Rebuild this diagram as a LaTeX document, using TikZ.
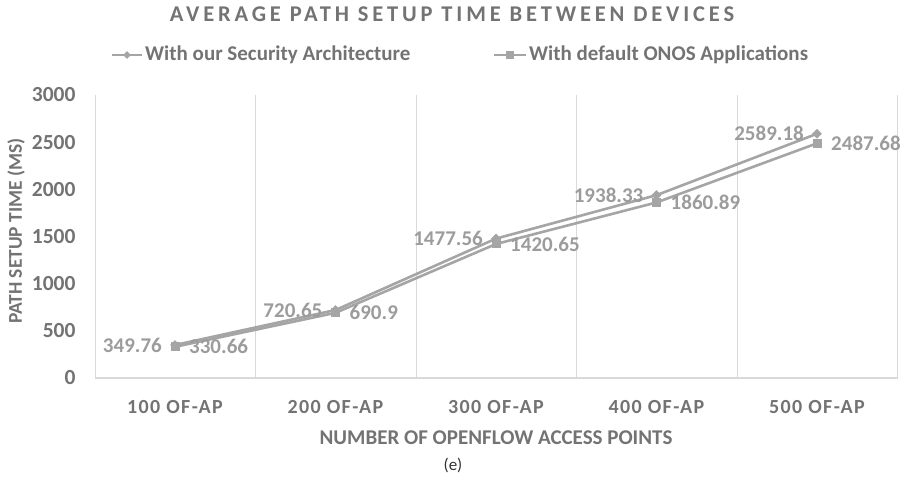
\documentclass[tikz,border=0pt]{standalone}
\usepackage{fontspec}
\setmainfont{Carlito}
\newfontfamily\spacedfont[LetterSpace=7]{Carlito}
\newfontfamily\widefont[LetterSpace=17]{Carlito}
\usetikzlibrary{shapes.geometric, positioning}
\definecolor{txtgray}{HTML}{737373}
\definecolor{lblgray}{HTML}{9C9C9C}
\definecolor{linegray}{HTML}{A5A5A5}
\definecolor{gridgray}{HTML}{D9D9D9}

\begin{document}
\begin{tikzpicture}[
    x=1pt, y=1pt,
    gridline/.style={draw=gridgray, line width=1pt},
    series/.style={draw=linegray, line width=2.6pt},
    diamark/.style={diamond, fill=linegray, minimum size=10pt, inner sep=0pt},
    sqmark/.style={rectangle, fill=linegray, minimum size=9pt, inner sep=0pt},
    ytick/.style={anchor=east, text=txtgray, font=\bfseries\fontsize{21.5}{24}\selectfont},
    xtick/.style={text=txtgray, font=\spacedfont\bfseries\fontsize{20}{24}\selectfont},
    datalbl/.style={text=lblgray, font=\bfseries\fontsize{21}{24}\selectfont, inner sep=0pt},
    legendtxt/.style={anchor=west, text=txtgray, font=\bfseries\fontsize{21}{24}\selectfont, inner sep=0pt},
    axtitle/.style={text=txtgray, font=\bfseries\fontsize{20.5}{24}\selectfont}
  ]
    \useasboundingbox (0,0) rectangle (907,481);

    % Title
    \node[text=txtgray, font=\widefont\bfseries\fontsize{22.5}{26}\selectfont] (title) at (452,467) {AVERAGE PATH SETUP TIME BETWEEN DEVICES};

    % Legend
    \coordinate (lgA1) at (112,426);
    \coordinate (lgA2) at (142,426);
    \draw[series, line width=2pt] (lgA1) -- (lgA2);
    \node[diamark, minimum size=8pt] (lgAmark) at (127,426) {};
    \node[legendtxt, right=3pt of lgA2] (lgAtxt) {With our Security Architecture};
    \coordinate (lgB1) at (494,426);
    \coordinate (lgB2) at (526,426);
    \draw[series, line width=2pt] (lgB1) -- (lgB2);
    \node[sqmark, minimum size=8pt] (lgBmark) at (510,426) {};
    \node[legendtxt, right=3pt of lgB2] (lgBtxt) {With default ONOS Applications};

    % Grid and axis
    \foreach \k in {0,...,5} {
      \coordinate (gb\k) at (95+160.5*\k,103);
      \coordinate (gt\k) at (95+160.5*\k,386);
      \draw[gridline] (gb\k) -- (gt\k);
    }
    \draw[gridline, line width=1.3pt] (gb0) -- (gb5);

    % Y ticks
    \foreach \v in {0,500,...,3000}
      \node[ytick] (yt\v) at (79,103+0.09433*\v) {\v};

    % X ticks
    \foreach \i in {1,...,5}
      \node[xtick] (xt\i) at (14.5+160.5*\i,74) {\i00 OF-AP};

    % Axis titles
    \node[axtitle, font=\bfseries\fontsize{21}{24}\selectfont] (xtitle) at (496,43) {NUMBER OF OPENFLOW ACCESS POINTS};
    \node[axtitle, rotate=90, font=\bfseries\fontsize{19.5}{23}\selectfont] (ytitle) at (16,250) {PATH SETUP TIME (MS)};
    \node[text=black!80, font=\fontsize{17}{20}\selectfont] (caption) at (453,16) {(e)};

    % Data points
    \foreach \i/\a/\b in {1/349.76/330.66, 2/720.65/690.9, 3/1477.56/1420.65, 4/1938.33/1860.89, 5/2589.18/2487.68} {
      \coordinate (pa\i) at (14.5+160.5*\i,103+0.09433*\a);
      \coordinate (pb\i) at (14.5+160.5*\i,103+0.09433*\b);
    }

    % Lines
    \draw[series] (pa1) -- (pa2) -- (pa3) -- (pa4) -- (pa5);
    \draw[series] (pb1) -- (pb2) -- (pb3) -- (pb4) -- (pb5);

    % Markers and labels
    \foreach \i/\a/\b in {1/349.76/330.66, 2/720.65/690.9, 3/1477.56/1420.65, 4/1938.33/1860.89, 5/2589.18/2487.68} {
      \node[diamark] (ma\i) at (pa\i) {};
      \node[sqmark] (mb\i) at (pb\i) {};
      \node[datalbl, anchor=east] (la\i) at ([xshift=-13pt]pa\i) {\a};
      \node[datalbl, anchor=west] (lb\i) at ([xshift=14pt]pb\i) {\b};
    }
\end{tikzpicture}
\end{document}
